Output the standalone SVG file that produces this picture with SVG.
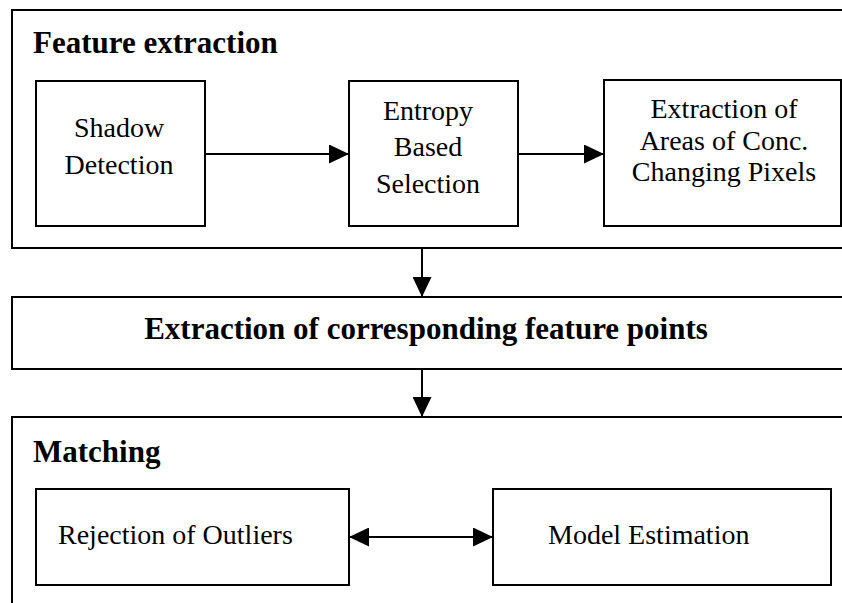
<svg xmlns="http://www.w3.org/2000/svg" width="842" height="603" viewBox="0 0 842 603">
  <style>
    .box { fill: #ffffff; stroke: #000000; stroke-width: 2; }
    .link { fill: none; stroke: #000000; stroke-width: 2; }
    .txt { font-family: "Liberation Serif", "Times New Roman", serif; font-size: 28px; fill: #000000; }
    .head { font-family: "Liberation Serif", "Times New Roman", serif; font-size: 31px; font-weight: bold; fill: #000000; }
    .mid { text-anchor: middle; }
  </style>
  <defs>
    <marker id="arrow" markerWidth="20" markerHeight="19" refX="20" refY="9.5" orient="auto-start-reverse" markerUnits="userSpaceOnUse">
      <path d="M0,0 L20,9.5 L0,19 Z" fill="#000000"/>
    </marker>
  </defs>
  <rect width="842" height="603" fill="#ffffff"/>

  <!-- Feature extraction stage -->
  <g id="feature-extraction">
    <rect class="box" x="12" y="10" width="850" height="238"/>
    <text class="head" x="33" y="53">Feature extraction</text>
  </g>
  <g id="shadow-detection">
    <rect class="box" x="36" y="81" width="169" height="145"/>
    <text class="txt mid" x="119" y="137">Shadow</text>
    <text class="txt mid" x="119" y="174">Detection</text>
  </g>
  <g id="entropy-selection">
    <rect class="box" x="349" y="81" width="169" height="145"/>
    <text class="txt mid" x="428" y="120">Entropy</text>
    <text class="txt mid" x="428" y="156">Based</text>
    <text class="txt mid" x="428" y="193">Selection</text>
  </g>
  <g id="changing-pixels">
    <rect class="box" x="604" y="80" width="237" height="146"/>
    <text class="txt mid" x="724" y="118">Extraction of</text>
    <text class="txt mid" x="724" y="150">Areas of Conc.</text>
    <text class="txt mid" x="724" y="181">Changing Pixels</text>
  </g>

  <!-- Correspondence stage -->
  <g id="corresponding-points">
    <rect class="box" x="12" y="297" width="850" height="72"/>
    <text class="head mid" x="426" y="339">Extraction of corresponding feature points</text>
  </g>

  <!-- Matching stage -->
  <g id="matching">
    <rect class="box" x="12" y="417" width="850" height="200"/>
    <text class="head" x="33" y="462">Matching</text>
  </g>
  <g id="outlier-rejection">
    <rect class="box" x="36" y="489" width="313" height="96"/>
    <text class="txt" x="58" y="544">Rejection of Outliers</text>
  </g>
  <g id="model-estimation">
    <rect class="box" x="493" y="489" width="338" height="96"/>
    <text class="txt" x="548" y="544">Model Estimation</text>
  </g>

  <!-- Connectors -->
  <g id="connectors">
    <line class="link" x1="205" y1="154" x2="349" y2="154" marker-end="url(#arrow)"/>
    <line class="link" x1="518" y1="154" x2="604" y2="154" marker-end="url(#arrow)"/>
    <line class="link" x1="422" y1="248" x2="422" y2="297" marker-end="url(#arrow)"/>
    <line class="link" x1="422" y1="369" x2="422" y2="417" marker-end="url(#arrow)"/>
    <line class="link" x1="349" y1="537" x2="493" y2="537" marker-start="url(#arrow)" marker-end="url(#arrow)"/>
  </g>
</svg>
